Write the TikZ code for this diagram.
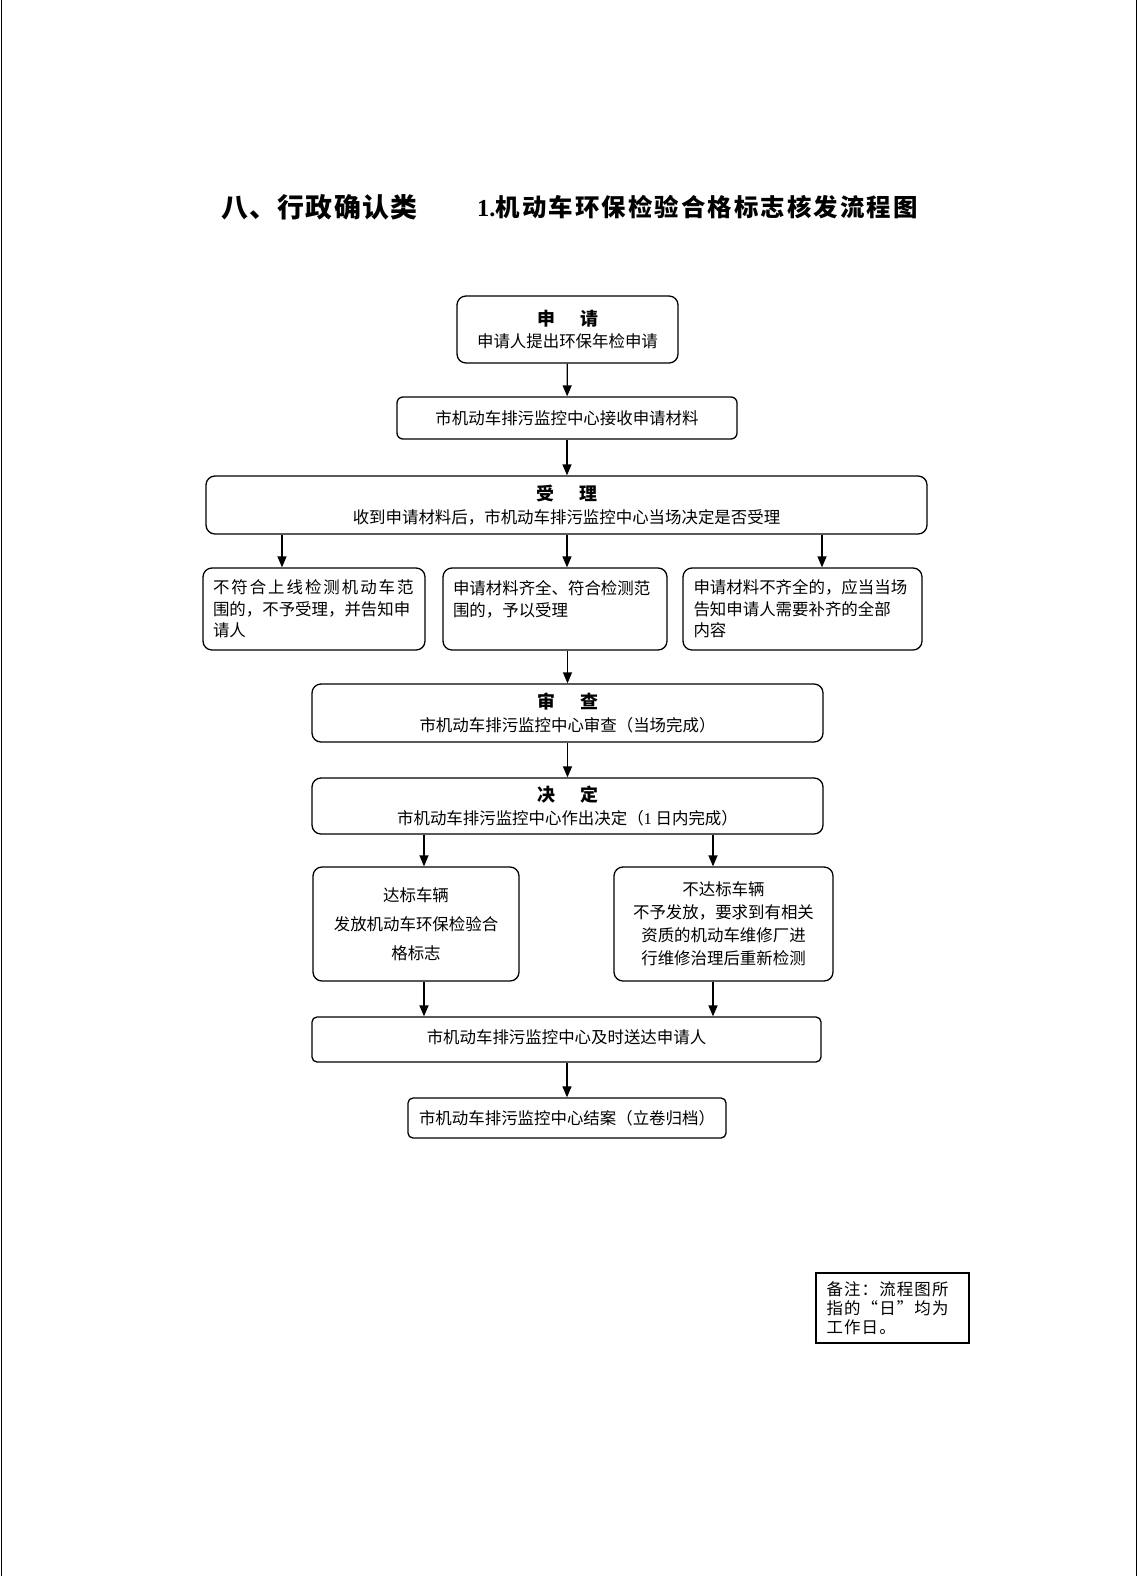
\documentclass[tikz,border=0pt]{standalone}
\usepackage{fontspec}
\setmainfont{Noto Sans CJK SC}
\newfontfamily\latinfont{Liberation Serif}
\newfontfamily\catfont[LetterSpace=5]{Noto Sans CJK SC}
\newfontfamily\titlefont[LetterSpace=8.6]{Noto Sans CJK SC}
\newfontfamily\widefont[LetterSpace=12]{Noto Sans CJK SC}
\newfontfamily\notefont[LetterSpace=7]{Noto Sans CJK SC}
\usetikzlibrary{arrows.meta}
\tikzstyle{box}=[draw,line width=1.3pt,rounded corners=9pt,inner sep=0pt,align=center,font=\fontsize{16.5}{23}\selectfont]
\tikzstyle{side box}=[box,align=left,font=\fontsize{16.5}{21.5}\selectfont]
\tikzstyle{note box}=[draw,line width=1.3pt,inner sep=0pt,align=left,font=\notefont\fontsize{16.5}{19}\selectfont]
\tikzstyle{edge}=[draw,line width=1.3pt,-{Triangle[length=11pt,width=9pt]}]
\newcommand{\hd}[2]{{\fontsize{18}{23}\bfseries #1\hspace{1.4em}#2}}

\begin{document}
\begin{tikzpicture}[x=1bp,y=-1bp]
          \useasboundingbox (0,0) rectangle (1138,1576);
          % page edges
          \draw[line width=1.2pt] (1.5,0) -- (1.5,1576);
          \draw[line width=1.2pt] (1136.5,0) -- (1136.5,1576);
          % title
          \node[anchor=west,inner sep=0pt,font=\catfont\fontsize{27}{27}\bfseries] (cat) at (221,207) {八、行政确认类};
          \node[anchor=west,inner sep=0pt,font=\titlefont\fontsize{24.5}{25}\bfseries] (title) at (477,207) {{\latinfont 1.}机动车环保检验合格标志核发流程图};
          % boxes
          \node[box,minimum width=221bp,minimum height=67bp] (apply) at (567.5,329.5) {\hd{申}{请}\\申请人提出环保年检申请};
          \node[box,rounded corners=6pt,minimum width=340bp,minimum height=42bp] (receive) at (567,418) {市机动车排污监控中心接收申请材料};
          \node[box,minimum width=721bp,minimum height=58bp] (accept) at (566.5,505) {\hd{受}{理}\\收到申请材料后，市机动车排污监控中心当场决定是否受理};
          \node[side box,text width=202bp,minimum width=222bp,minimum height=82bp] (reject) at (314,609) {{\widefont 不符合上线检测机动车范}\\围的，不予受理，并告知申\\请人};
          \node[side box,text width=204bp,minimum width=224bp,minimum height=82bp] (ok) at (555,609) {申请材料齐全、符合检测范\\围的，予以受理\\\mbox{}};
          \node[side box,text width=218bp,minimum width=239bp,minimum height=82bp] (lack) at (802.5,609) {申请材料不齐全的，应当当场\\告知申请人需要补齐的全部\\内容};
          \node[box,minimum width=511bp,minimum height=58bp] (review) at (567.5,713) {\hd{审}{查}\\市机动车排污监控中心审查（当场完成）};
          \node[box,minimum width=511bp,minimum height=56bp] (decide) at (567.5,806) {\hd{决}{定}\\市机动车排污监控中心作出决定（{\latinfont 1} 日内完成）};
          \node[box,font=\fontsize{16.5}{29}\selectfont,minimum width=206bp,minimum height=114bp] (pass) at (416,924) {达标车辆\\发放机动车环保检验合\\格标志};
          \node[box,minimum width=219bp,minimum height=114bp] (fail) at (723.5,924) {不达标车辆\\不予发放，要求到有相关\\资质的机动车维修厂进\\行维修治理后重新检测};
          \node[box,rounded corners=5pt,minimum width=509bp,minimum height=45bp] (deliver) at (566.5,1039.5) {\raisebox{6pt}{市机动车排污监控中心及时送达申请人}};
          \node[box,rounded corners=5pt,minimum width=318bp,minimum height=40bp] (close) at (567,1118) {市机动车排污监控中心结案（立卷归档）};
          \node[note box,text width=132bp,minimum width=153bp,minimum height=70bp] (note) at (892.5,1308) {备注：流程图所\\指的“日”均为\\工作日。};
          % arrows
          \draw[edge] (apply) -- (receive);
          \draw[edge] (receive) -- (accept.north -| receive);
          \draw[edge] ([xshift=-32bp]reject.north |- accept.south) -- ([xshift=-32bp]reject.north);
          \draw[edge] ([xshift=12bp]ok.north |- accept.south) -- ([xshift=12bp]ok.north);
          \draw[edge] ([xshift=19.5bp]lack.north |- accept.south) -- ([xshift=19.5bp]lack.north);
          \draw[edge] (review.north |- ok.south) -- (review.north);
          \draw[edge] (review) -- (decide);
          \draw[edge] ([xshift=8bp]pass.north |- decide.south) -- ([xshift=8bp]pass.north);
          \draw[edge] ([xshift=-10.5bp]fail.north |- decide.south) -- ([xshift=-10.5bp]fail.north);
          \draw[edge] ([xshift=8bp]pass.south) -- ([xshift=8bp]pass.south |- deliver.north);
          \draw[edge] ([xshift=-10.5bp]fail.south) -- ([xshift=-10.5bp]fail.south |- deliver.north);
          \draw[edge] (deliver.south -| close) -- (close);
\end{tikzpicture}
\end{document}
